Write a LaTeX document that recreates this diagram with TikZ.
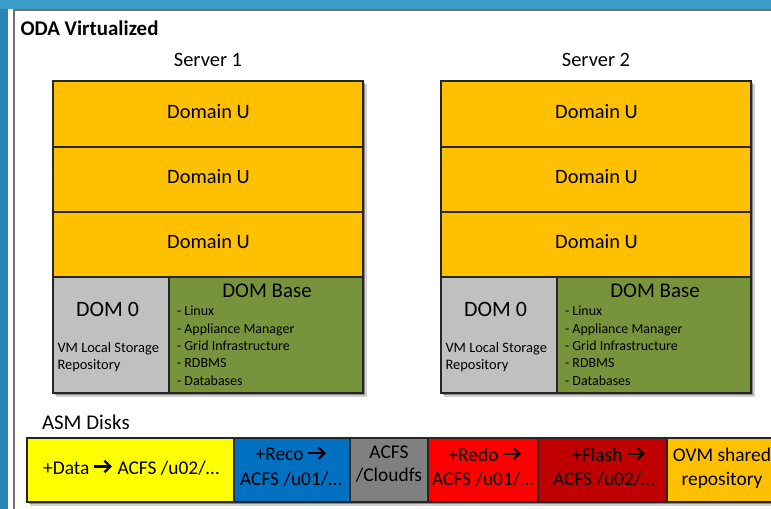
\documentclass[tikz,border=0pt]{standalone}
\usepackage{fontspec}
\setmainfont{Carlito}
\usetikzlibrary{calc}
\definecolor{bgblue}{HTML}{3A9CC8}
\definecolor{bgblueleft}{HTML}{2B84B6}
\definecolor{panelline}{HTML}{707070}
\definecolor{domu}{HTML}{FFC000}
\definecolor{domzero}{HTML}{C0C0C0}
\definecolor{dombase}{HTML}{77933C}
\definecolor{boxline}{HTML}{262626}
\definecolor{diskyellow}{HTML}{FFFF00}
\definecolor{diskblue}{HTML}{0070C0}
\definecolor{diskgray}{HTML}{808080}
\definecolor{diskred}{HTML}{FF0000}
\definecolor{diskdarkred}{HTML}{C00000}
\definecolor{diskorange}{HTML}{FFC000}
\newcommand\ftitle{\fontsize{21}{25}\selectfont\bfseries}
\newcommand\fsrv{\fontsize{20.5}{24}\selectfont}
\newcommand\fdomu{\fontsize{20.5}{24}\selectfont}
\newcommand\fdomzero{\fontsize{22}{26}\selectfont}
\newcommand\fdombase{\fontsize{21}{25}\selectfont}
\newcommand\fsmall{\fontsize{14.5}{17}\selectfont}
\newcommand\flist{\fontsize{14}{17}\selectfont}
\newcommand\fasm{\fontsize{21}{25}\selectfont}
\newcommand\fdisk{\fontsize{19.5}{23}\selectfont}
\tikzset{
  box/.style={draw=boxline, line width=1.1bp, inner sep=0pt, outer sep=0pt, anchor=north west},
  lbl/.style={inner sep=0pt, outer sep=0pt, anchor=base},
  lblw/.style={inner sep=0pt, outer sep=0pt, anchor=base west},
  lble/.style={inner sep=0pt, outer sep=0pt, anchor=base east},
  arrowline/.style={draw=black, line width=2.2bp, line join=miter, line cap=butt},
  shadowa/.style={fill=black, opacity=0.18},
  shadowb/.style={fill=black, opacity=0.35},
}
\begin{document}
\begin{tikzpicture}[x=1bp,y=-1bp]
\useasboundingbox (0,0) rectangle (771,509);
\clip (0,0) rectangle (771,509);
% background
\fill[bgblue] (0,0) rectangle (771,509);
\fill[bgblueleft] (0,9) rectangle (8,509);
\fill[white] (8,9.5) rectangle (771,509);
\draw[panelline, line width=1.5bp] (13.75,509) -- (13.75,10.25) -- (771,10.25);
% title
\node[lblw, font=\ftitle] (title) at (20.5,36) {ODA Virtualized};
% servers
\foreach \i/\ox in {1/0, 2/388} {
  \begin{scope}[xshift=\ox bp]
    \fill[shadowa] (56,84) rectangle (366.5,396.5);
    \fill[shadowb] (55,83) rectangle (365,395);
    \node[lbl, font=\fsrv] (srv\i) at (208,67) {Server \i};
    \node[box, fill=domu, minimum width=310bp, minimum height=66bp] (domua\i) at (53,81) {};
    \node[box, fill=domu, minimum width=310bp, minimum height=65bp] (domub\i) at (53,147) {};
    \node[box, fill=domu, minimum width=310bp, minimum height=65bp] (domuc\i) at (53,212) {};
    \node[box, fill=domzero, minimum width=116bp, minimum height=116bp] (dom0\i) at (53,277) {};
    \node[box, fill=dombase, minimum width=194bp, minimum height=116bp] (dombase\i) at (169,277) {};
    \node[lbl, font=\fdomu] (tdomua\i) at (208.5,119) {Domain U};
    \node[lbl, font=\fdomu] (tdomub\i) at (208.5,184) {Domain U};
    \node[lbl, font=\fdomu] (tdomuc\i) at (208.5,249) {Domain U};
    \node[lbl, font=\fdomzero] (tdom0\i) at (107.5,316) {DOM 0};
    \node[lblw, font=\fsmall] (tvml\i) at (57.5,352.3) {VM Local Storage};
    \node[lblw, font=\fsmall] (trep\i) at (57.5,369) {Repository};
    \node[lbl, font=\fdombase] (tdombase\i) at (267,298) {DOM Base};
    \node[lblw, font=\flist] (la\i) at (177,315.7) {- Linux};
    \node[lblw, font=\flist] (lb\i) at (177,333.2) {- Appliance Manager};
    \node[lblw, font=\flist] (lc\i) at (177,350.6) {- Grid Infrastructure};
    \node[lblw, font=\flist] (ld\i) at (177,367.9) {- RDBMS};
    \node[lblw, font=\flist] (le\i) at (177,385.2) {- Databases};
  \end{scope}
}
% ASM disks
\node[lblw, font=\fasm] (asm) at (42,429.3) {ASM Disks};
\fill[shadowa] (30,441) rectangle (780,505.5);
\fill[shadowb] (29,440) rectangle (780,504);
\node[box, fill=diskyellow, minimum width=207bp, minimum height=64bp] (dka) at (27,438) {};
\node[box, fill=diskblue, minimum width=116bp, minimum height=64bp] (dkb) at (234,438) {};
\node[box, fill=diskgray, minimum width=78bp, minimum height=64bp] (dkc) at (350,438) {};
\node[box, fill=diskred, minimum width=110bp, minimum height=64bp] (dkd) at (428,438) {};
\node[box, fill=diskdarkred, minimum width=129bp, minimum height=64bp] (dke) at (538,438) {};
\node[box, fill=diskorange, minimum width=110bp, minimum height=64bp] (dkf) at (667,438) {};
\node[lble, font=\fdisk] (tdka1) at (89.5,474) {+Data};
\node[lblw, font=\fdisk] (tdka2) at (117.5,474) {ACFS /u02/…};
\node[lble, font=\fdisk] (tdkb1) at (303.5,460.7) {+Reco};
\node[lbl, font=\fdisk] (tdkb2) at (291,485) {ACFS /u01/…};
\node[lbl, font=\fdisk] (tdkc1) at (389,458.3) {ACFS};
\node[lbl, font=\fdisk] (tdkc2) at (389,481.7) {/Cloudfs};
\node[lble, font=\fdisk] (tdkd1) at (498.5,461.2) {+Redo};
\node[lbl, font=\fdisk] (tdkd2) at (483,485) {ACFS /u01/…};
\node[lble, font=\fdisk] (tdke1) at (622.5,461.2) {+Flash};
\node[lbl, font=\fdisk] (tdke2) at (604,485) {ACFS /u02/…};
\node[lbl, font=\fdisk] (tdkf1) at (722,461.2) {OVM shared};
\node[lbl, font=\fdisk] (tdkf2) at (722,485) {repository};
% arrows after +Data, +Reco, +Redo, +Flash
\foreach \n in {tdka1, tdkb1, tdkd1, tdke1} {
  \coordinate (\n-arr) at ($(\n.base east)+(4.5,-7.5)$);
  \draw[arrowline] (\n-arr) -- ++(15.5,0);
  \draw[arrowline] ($(\n-arr)+(10.5,-5.8)$) -- ($(\n-arr)+(16.3,0)$) -- ($(\n-arr)+(10.5,5.8)$);
}
\end{tikzpicture}
\end{document}
